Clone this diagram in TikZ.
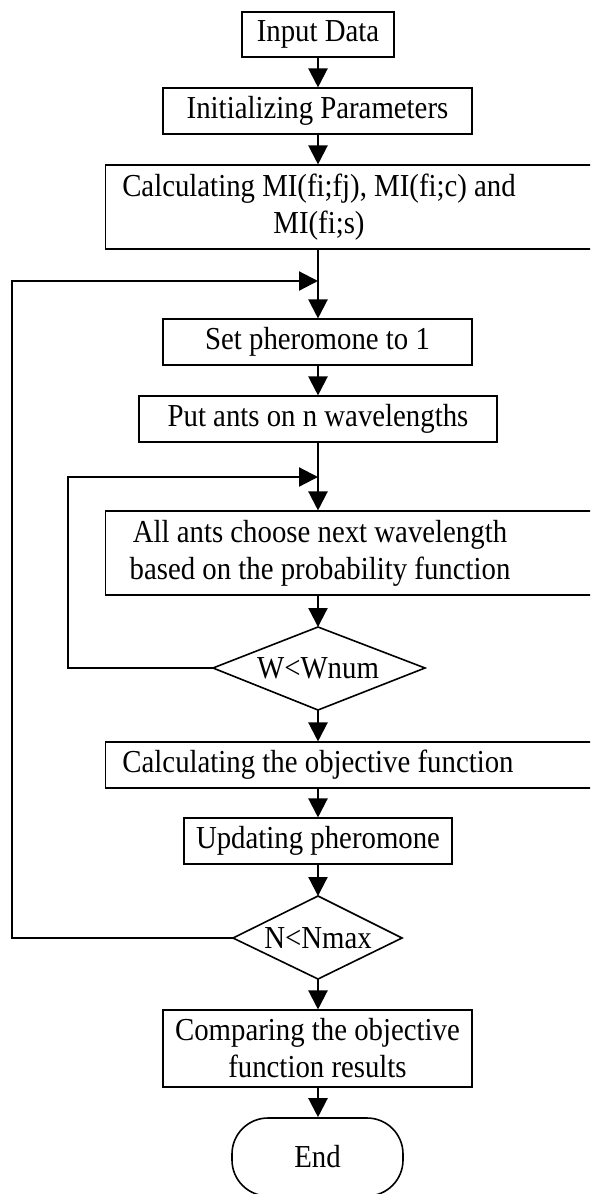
\documentclass[tikz,border=0pt]{standalone}
\usepackage{fontspec}
\setmainfont{Liberation Serif}[Ligatures=CommonOff, FakeStretch=0.9]
\usetikzlibrary{arrows.meta}
\begin{document}
\begin{tikzpicture}[x=1pt,y=-1pt,
  font=\fontsize{32}{37}\selectfont,
  box/.style={draw, line width=1.1pt, rectangle, inner sep=0pt, align=center},
  dline/.style={line width=1.6pt, line join=miter},
  term/.style={draw, line width=1.6pt, rectangle, rounded corners=36pt, inner sep=0pt},
  txt/.style={align=center, inner sep=0pt},
  conn/.style={line width=2.2pt},
  arr/.style={conn, -{Triangle[length=19pt,width=19pt]}}]
\useasboundingbox (0,0) rectangle (590,1194);
\clip (0,0) rectangle (590,1194);
\fill[white] (0,0) rectangle (590,1194);

\node[box, minimum width=152pt, minimum height=45pt] (in) at (318,34.5) {Input Data};
\node[box, minimum width=309pt, minimum height=46pt] (init) at (317.5,111) {Initializing Parameters};
\node[box, minimum width=495pt, minimum height=84pt, anchor=west] (calc) at (105,207) {};
\node[txt] (calct) at (319,207) {Calculating MI(fi;fj), MI(fi;c) and\\MI(fi;s)};
\node[box, minimum width=309pt, minimum height=46pt] (set) at (317.5,342) {Set pheromone to 1};
\node[box, minimum width=358pt, minimum height=46pt] (put) at (318,419) {Put ants on n wavelengths};
\node[box, minimum width=495pt, minimum height=84pt, anchor=west] (all) at (105,553) {};
\node[txt] (allt) at (320,553) {All ants choose next wavelength\\based on the probability function};

\node[txt] (w) at (318,668) {W<Wnum};
\coordinate (wn) at (318,627);
\coordinate (we) at (425,668);
\coordinate (ws) at (318,710);
\coordinate (ww) at (213,668);
\draw[dline] (wn) -- (we) -- (ws) -- (ww) -- cycle;

\node[box, minimum width=495pt, minimum height=46pt, anchor=west] (obj) at (105,765) {};
\node[txt] (objt) at (318,765) {Calculating the objective function};
\node[box, minimum width=268pt, minimum height=46pt] (upd) at (318,841) {Updating pheromone};

\node[txt] (n) at (318,938) {N<Nmax};
\coordinate (nn) at (318,896);
\coordinate (ne) at (402,938);
\coordinate (ns) at (318,979);
\coordinate (nw) at (233,938);
\draw[dline] (nn) -- (ne) -- (ns) -- (nw) -- cycle;

\node[box, minimum width=309pt, minimum height=77pt] (cmp) at (317.5,1048.5) {Comparing the objective\\function results};
\node[term, minimum width=171pt, minimum height=78pt] (end) at (317.5,1157) {End};

\coordinate (j1) at (318,281);
\coordinate (j2) at (318,477);
\coordinate (l1a) at (12,938);
\coordinate (l1b) at (12,281);
\coordinate (l2a) at (68,668);
\coordinate (l2b) at (68,477);

\draw[arr] (in.south -| wn) -- (init.north -| wn);
\draw[arr] (init.south -| wn) -- (calc.north -| wn);
\draw[arr] (calc.south -| wn) -- (set.north -| wn);
\draw[arr] (set.south -| wn) -- (put.north -| wn);
\draw[arr] (put.south -| wn) -- (all.north -| wn);
\draw[arr] (all.south -| wn) -- (wn);
\draw[arr] (ws) -- (obj.north -| wn);
\draw[arr] (obj.south -| wn) -- (upd.north -| wn);
\draw[arr] (upd.south -| wn) -- (nn);
\draw[arr] (ns) -- (cmp.north -| wn);
\draw[arr] (cmp.south -| wn) -- (end.north -| wn);

\draw[arr] (nw) -- (l1a) -- (l1b) -- (j1);
\draw[arr] (ww) -- (l2a) -- (l2b) -- (j2);
\end{tikzpicture}
\end{document}
